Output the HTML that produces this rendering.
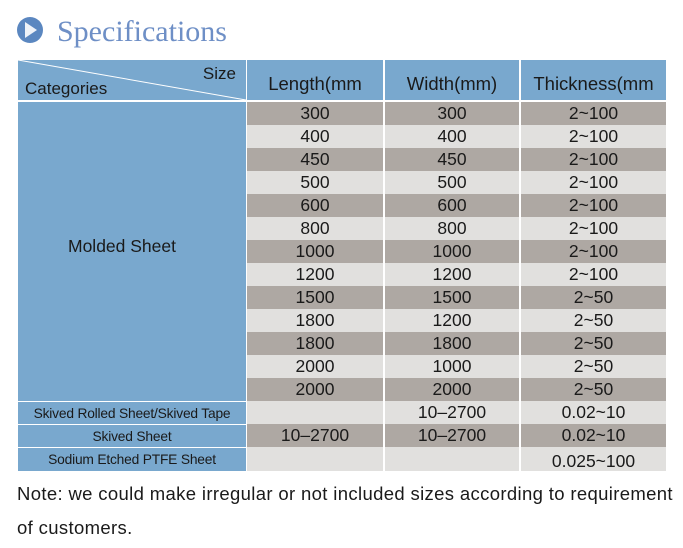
<!DOCTYPE html>
<html><head><meta charset="utf-8"><style>
body{margin:0;width:683px;height:548px;background:#fff;position:relative;overflow:hidden;font-family:"Liberation Sans",sans-serif;color:#1a1a1a}
.c{position:absolute;display:flex;align-items:center;justify-content:center;font-size:17.5px;box-sizing:border-box}
.b{background:#79a8ce}.d{background:#aea8a3}.l{background:#e1e0de}
.h{font-size:18.5px;padding-top:7px}
.s{font-size:13.8px;letter-spacing:-0.2px}
</style></head><body>
<svg style="position:absolute;left:0;top:0" width="683" height="60">
<circle cx="30" cy="30" r="13" fill="#5b87c0"/>
<polygon points="25,22 37,30 25,38" fill="#eef2f8"/>
<text x="57" y="41" font-family="Liberation Serif,serif" font-size="30" fill="#6e8fc6">Specifications</text>
</svg>
<div class="c b" style="left:18px;top:60px;width:228px;height:40px"></div>
<svg style="position:absolute;left:18px;top:60px" width="228" height="40"><line x1="0" y1="0" x2="228" y2="40" stroke="#fff" stroke-width="1"/>
<text x="218" y="19" text-anchor="end" font-size="17" fill="#1a1a1a" font-family="Liberation Sans,sans-serif">Size</text>
<text x="7" y="34" font-size="17" fill="#1a1a1a" font-family="Liberation Sans,sans-serif">Categories</text></svg>
<div class="c b h" style="left:247px;top:60px;width:136px;height:40px">Length(mm</div>
<div class="c b h" style="left:385px;top:60px;width:134px;height:40px">Width(mm)</div>
<div class="c b h" style="left:521px;top:60px;width:145px;height:40px">Thickness(mm</div>
<div class="c b" style="left:18px;top:102px;width:228px;height:299px;padding-bottom:10px;font-size:17.5px;justify-content:flex-start;padding-left:50px">Molded Sheet</div>
<div class="c b s" style="left:18px;top:402px;width:228px;height:22px">Skived Rolled Sheet/Skived Tape</div>
<div class="c b s" style="left:18px;top:425px;width:228px;height:22px">Skived Sheet</div>
<div class="c b s" style="left:18px;top:448px;width:228px;height:23px">Sodium Etched PTFE Sheet</div>

<div class="c d" style="left:247px;top:102px;width:136px;height:23px">300</div><div class="c d" style="left:385px;top:102px;width:134px;height:23px">300</div><div class="c d" style="left:521px;top:102px;width:145px;height:23px">2~100</div>
<div class="c l" style="left:247px;top:125px;width:136px;height:23px">400</div><div class="c l" style="left:385px;top:125px;width:134px;height:23px">400</div><div class="c l" style="left:521px;top:125px;width:145px;height:23px">2~100</div>
<div class="c d" style="left:247px;top:148px;width:136px;height:23px">450</div><div class="c d" style="left:385px;top:148px;width:134px;height:23px">450</div><div class="c d" style="left:521px;top:148px;width:145px;height:23px">2~100</div>
<div class="c l" style="left:247px;top:171px;width:136px;height:23px">500</div><div class="c l" style="left:385px;top:171px;width:134px;height:23px">500</div><div class="c l" style="left:521px;top:171px;width:145px;height:23px">2~100</div>
<div class="c d" style="left:247px;top:194px;width:136px;height:23px">600</div><div class="c d" style="left:385px;top:194px;width:134px;height:23px">600</div><div class="c d" style="left:521px;top:194px;width:145px;height:23px">2~100</div>
<div class="c l" style="left:247px;top:217px;width:136px;height:23px">800</div><div class="c l" style="left:385px;top:217px;width:134px;height:23px">800</div><div class="c l" style="left:521px;top:217px;width:145px;height:23px">2~100</div>
<div class="c d" style="left:247px;top:240px;width:136px;height:23px">1000</div><div class="c d" style="left:385px;top:240px;width:134px;height:23px">1000</div><div class="c d" style="left:521px;top:240px;width:145px;height:23px">2~100</div>
<div class="c l" style="left:247px;top:263px;width:136px;height:23px">1200</div><div class="c l" style="left:385px;top:263px;width:134px;height:23px">1200</div><div class="c l" style="left:521px;top:263px;width:145px;height:23px">2~100</div>
<div class="c d" style="left:247px;top:286px;width:136px;height:23px">1500</div><div class="c d" style="left:385px;top:286px;width:134px;height:23px">1500</div><div class="c d" style="left:521px;top:286px;width:145px;height:23px">2~50</div>
<div class="c l" style="left:247px;top:309px;width:136px;height:23px">1800</div><div class="c l" style="left:385px;top:309px;width:134px;height:23px">1200</div><div class="c l" style="left:521px;top:309px;width:145px;height:23px">2~50</div>
<div class="c d" style="left:247px;top:332px;width:136px;height:23px">1800</div><div class="c d" style="left:385px;top:332px;width:134px;height:23px">1800</div><div class="c d" style="left:521px;top:332px;width:145px;height:23px">2~50</div>
<div class="c l" style="left:247px;top:355px;width:136px;height:23px">2000</div><div class="c l" style="left:385px;top:355px;width:134px;height:23px">1000</div><div class="c l" style="left:521px;top:355px;width:145px;height:23px">2~50</div>
<div class="c d" style="left:247px;top:378px;width:136px;height:23px">2000</div><div class="c d" style="left:385px;top:378px;width:134px;height:23px">2000</div><div class="c d" style="left:521px;top:378px;width:145px;height:23px">2~50</div>
<div class="c l" style="left:247px;top:401px;width:136px;height:23px"></div><div class="c l" style="left:385px;top:401px;width:134px;height:23px">10–2700</div><div class="c l" style="left:521px;top:401px;width:145px;height:23px">0.02~10</div>
<div class="c d" style="left:247px;top:424px;width:136px;height:23px">10–2700</div><div class="c d" style="left:385px;top:424px;width:134px;height:23px">10–2700</div><div class="c d" style="left:521px;top:424px;width:145px;height:23px">0.02~10</div>
<div class="c l" style="left:247px;top:447px;width:136px;height:24px"></div><div class="c l" style="left:385px;top:447px;width:134px;height:24px"></div><div class="c l" style="left:521px;top:447px;width:145px;height:24px;padding-top:4px">0.025~100</div>

<div style="position:absolute;left:17px;top:483px;font-size:18.5px;letter-spacing:0.35px;white-space:nowrap">Note: we could make irregular or not included sizes according to requirement</div>
<div style="position:absolute;left:17px;top:517px;font-size:18.5px;letter-spacing:0.35px">of customers.</div>
</body></html>
